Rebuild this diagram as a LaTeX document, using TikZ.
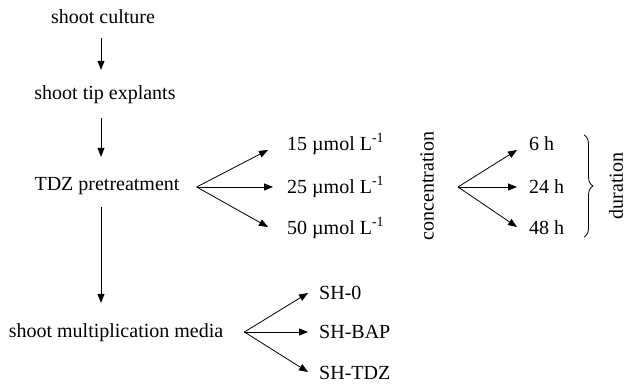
\documentclass[tikz,border=0pt]{standalone}
\usepackage{fontspec}
\setmainfont{Liberation Serif}
\usetikzlibrary{arrows.meta, positioning, calc, decorations.pathreplacing}

\begin{document}
\begin{tikzpicture}[x=1pt, y=-1pt, font=\fontsize{20}{24}\selectfont,
  flowarr/.style={-{Triangle[length=9pt,width=7pt]}, line width=0.8pt},
  stage/.style={inner sep=3pt, text height=14pt, text depth=4pt},
  choice/.style={inner sep=0pt, anchor=west},
  side/.style={inner sep=0pt, rotate=90}]
  \useasboundingbox (0,0) rectangle (627,387);

  % Main column
  \node[stage] (culture) at (103,19) {shoot culture};
  \node[stage] (tip) at (105,95) {shoot tip explants};
  \node[stage] (tdz) at (107,186) {TDZ pretreatment};
  \node[stage] (media) at (116,333) {shoot multiplication media};

  \draw[flowarr, shorten <=7pt, shorten >=13pt] ([xshift=-2pt]culture.south) -- ([xshift=-4pt]tip.north);
  \draw[flowarr, shorten <=11pt, shorten >=17pt] ([xshift=-4pt]tip.south) -- ([xshift=-6pt]tdz.north);
  \draw[flowarr, shorten <=9pt, shorten >=18pt] ([xshift=-6pt]tdz.south) -- ([xshift=-15pt]media.north);

  % Concentration
  \coordinate (fanc) at ($(tdz.east)+(14,1)$);
  \node[choice] (c15) at (287,144) {15 µmol L\textsuperscript{-1}};
  \node[choice] (c25) at (287,187) {25 µmol L\textsuperscript{-1}};
  \node[choice] (c50) at (287,228) {50 µmol L\textsuperscript{-1}};
  \draw[flowarr] (fanc) -- ($(c15.west)+(-19,6)$);
  \draw[flowarr] (fanc) -- ($(c25.west)+(-14,0)$);
  \draw[flowarr] (fanc) -- ($(c50.west)+(-19,-1)$);
  \node[side] (conc) at (427,186) {concentration};

  % Duration
  \coordinate (fand) at (458,187);
  \node[choice] (h6) at (529,144) {6 h};
  \node[choice] (h24) at (529,187) {24 h};
  \node[choice] (h48) at (529,228) {48 h};
  \draw[flowarr] (fand) -- ($(h6.west)+(-12,6)$);
  \draw[flowarr] (fand) -- ($(h24.west)+(-12,0)$);
  \draw[flowarr] (fand) -- ($(h48.west)+(-12,-1)$);
  \draw[decorate, decoration={brace, amplitude=9pt}, line width=0.8pt] (584,135) -- (584,237);
  \node[side] (dur) at (616,186) {duration};

  % Media
  \coordinate (fanm) at ($(media.east)+(18,-1)$);
  \node[choice] (sh0) at (319,293) {SH-0};
  \node[choice] (shbap) at (319,332) {SH-BAP};
  \node[choice] (shtdz) at (319,373) {SH-TDZ};
  \draw[flowarr] (fanm) -- ($(sh0.west)+(-11,0)$);
  \draw[flowarr] (fanm) -- ($(shbap.west)+(-11,0)$);
  \draw[flowarr] (fanm) -- ($(shtdz.west)+(-11,-1)$);
\end{tikzpicture}
\end{document}
